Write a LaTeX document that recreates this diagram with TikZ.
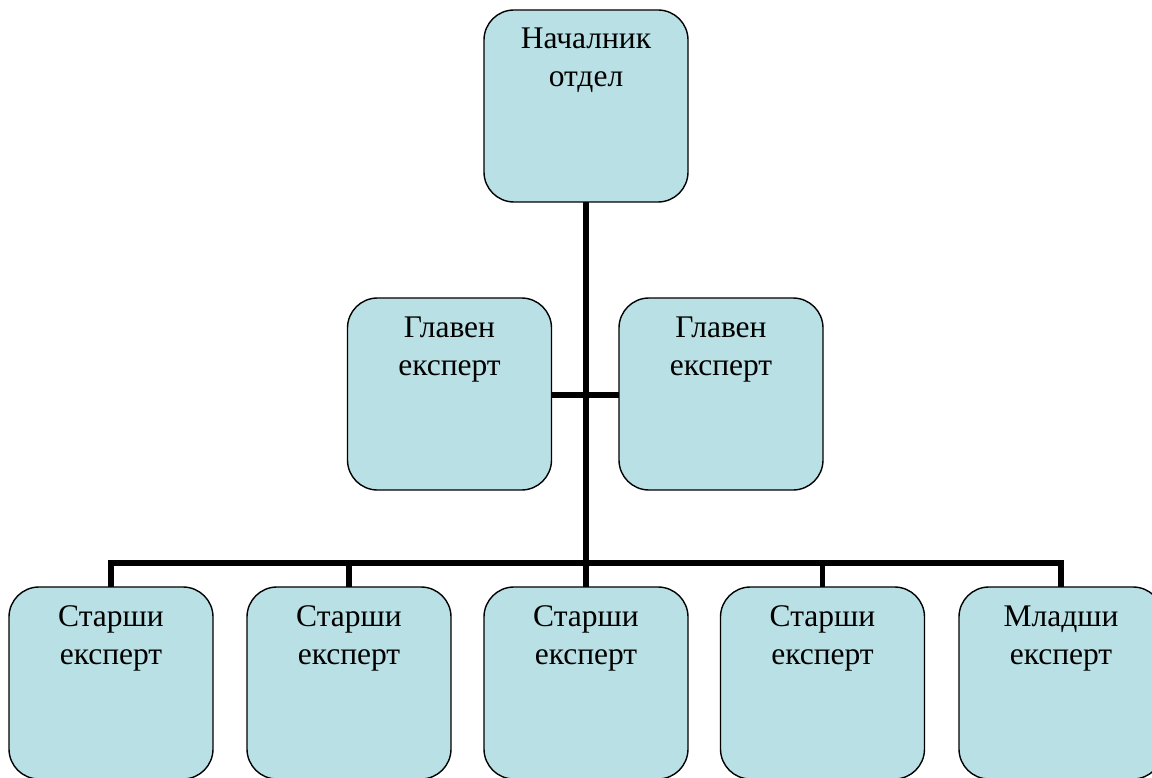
\documentclass[tikz,border=0pt]{standalone}
\usepackage{fontspec}
\setmainfont{Liberation Serif}
\definecolor{boxfill}{RGB}{185,224,228}
\begin{document}
\begin{tikzpicture}[x=1pt,y=-1pt,
  orgbox/.style={draw=black, line width=1.4pt, fill=boxfill, rounded corners=30pt,
    minimum width=204pt, minimum height=192pt, inner sep=0pt, outer sep=0pt},
  boxtext/.style={anchor=base, align=center, inner sep=0pt,
    font=\fontsize{31.5}{38}\selectfont},
  link/.style={line width=5.5pt, line cap=butt}]
\useasboundingbox (0,0) rectangle (1152,778);
% boxes
\node[orgbox] (top) at (586,106) {};
\node[orgbox] (gl) at (449.5,394) {};
\node[orgbox] (gr) at (721,394) {};
\node[orgbox] (s1) at (111,683) {};
\node[orgbox] (s2) at (349,683) {};
\node[orgbox] (s3) at (586,683) {};
\node[orgbox] (s4) at (822.5,683) {};
\node[orgbox] (s5) at (1061,683) {};
% texts (base anchor = baseline of last line)
\node[boxtext] (ttop) at ([yshift=-77pt]top.north) {Началник\\отдел};
\node[boxtext] (tgl) at ([yshift=-77pt]gl.north) {Главен\\експерт};
\node[boxtext] (tgr) at ([yshift=-77pt]gr.north) {Главен\\експерт};
\node[boxtext] (ts1) at ([yshift=-77pt]s1.north) {Старши\\експерт};
\node[boxtext] (ts2) at ([yshift=-77pt]s2.north) {Старши\\експерт};
\node[boxtext] (ts3) at ([yshift=-77pt]s3.north) {Старши\\експерт};
\node[boxtext] (ts4) at ([yshift=-77pt]s4.north) {Старши\\експерт};
\node[boxtext] (ts5) at ([yshift=-77pt]s5.north) {Младши\\експерт};
% connectors
\coordinate (bus) at (586,563);
\draw[link] (top.south) -- (bus);
\draw[link] (gl.east |- 0,395) -- (gr.west |- 0,395);
\draw[link] (s1.north) -- (s1.north |- bus) -- (s5.north |- bus) -- (s5.north);
\draw[link] (s2.north) -- (s2.north |- bus);
\draw[link] (s3.north) -- (s3.north |- bus);
\draw[link] (s4.north) -- (s4.north |- bus);
\end{tikzpicture}
\end{document}
